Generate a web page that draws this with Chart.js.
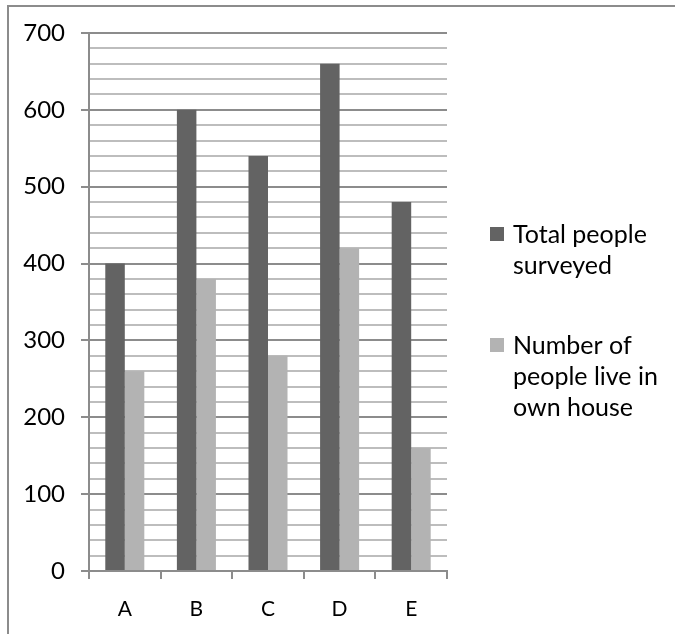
<!DOCTYPE html>
<html>
<head>
<meta charset="utf-8">
<script src="https://cdn.jsdelivr.net/npm/chart.js@4.4.1/dist/chart.umd.min.js"></script>
<style>
  html, body { margin: 0; background: #fff; overflow: hidden; }
  canvas { display: block; }
</style>
</head>
<body>
<canvas id="chart" width="675" height="634"></canvas>
<script>
const categories = ["A", "B", "C", "D", "E"];
const totalSurveyed = [400, 600, 540, 660, 480];
const ownHouse = [260, 380, 280, 420, 160];
const yTickLabels = [0, 100, 200, 300, 400, 500, 600, 700];

// legend text broken the way the picture wraps it
const totalLabel = ["Total people", "surveyed"];
const ownLabel = ["Number of", "people live in", "own house"];

const darkGrey = "#636363";
const lightGrey = "#b3b3b3";

// outer frame: only left and top edges are visible in the crop
const frame = {
  id: "frame",
  beforeDraw(chart) {
    const ctx = chart.ctx;
    ctx.save();
    ctx.strokeStyle = "#8c8c8c";
    ctx.lineWidth = 2;
    ctx.beginPath();
    ctx.moveTo(8, chart.height);
    ctx.lineTo(8, 6);
    ctx.lineTo(chart.width, 6);
    ctx.stroke();
    ctx.restore();
  }
};

const sideLegend = {
  id: "sideLegend",
  afterDraw(chart) {
    const ctx = chart.ctx;
    const tops = [227, 338];
    ctx.save();
    ctx.font = "25px Lato";
    ctx.textBaseline = "alphabetic";
    chart.data.datasets.forEach((ds, i) => {
      ctx.fillStyle = ds.backgroundColor;
      ctx.fillRect(490, tops[i], 14, 14);
      ctx.fillStyle = "#000";
      ds.lines.forEach((line, j) => {
        ctx.fillText(line, 513, tops[i] + 16 + j * 31);
      });
    });
    ctx.restore();
  }
};

new Chart(document.getElementById("chart"), {
  type: "bar",
  data: {
    labels: categories,
    datasets: [
      { label: totalLabel.join(" "), lines: totalLabel, data: totalSurveyed, backgroundColor: darkGrey },
      { label: ownLabel.join(" "), lines: ownLabel, data: ownHouse, backgroundColor: lightGrey }
    ]
  },
  options: {
    responsive: false,
    animation: false,
    layout: { padding: { top: 33, right: 228, left: 0, bottom: 0 } },
    datasets: { bar: { categoryPercentage: 0.545, barPercentage: 1 } },
    plugins: { legend: { display: false }, tooltip: { enabled: false } },
    scales: {
      x: {
        afterFit: (s) => { s.height = 63; },
        grid: {
          offset: true,
          drawOnChartArea: false,
          color: "#8c8c8c",
          lineWidth: 2,
          tickLength: 8
        },
        border: { color: "#8c8c8c", width: 2 },
        ticks: { color: "#000", font: { family: "Lato", size: 21 }, padding: 18 }
      },
      y: {
        min: 0,
        max: 700,
        afterFit: (s) => { s.width = 89; },
        ticks: {
          stepSize: 20,
          autoSkip: false,
          maxTicksLimit: 100,
          color: "#000",
          font: { family: "Lato", size: 24 },
          padding: 16,
          callback: (v) => yTickLabels.includes(v) ? String(v) : ""
        },
        grid: {
          lineWidth: 2,
          tickLength: 8,
          color: (c) => c.tick && c.tick.value % 100 === 0 ? "#8c8c8c" : "#bdbdbd",
          tickColor: (c) => c.tick && c.tick.value % 100 === 0 ? "#8c8c8c" : "rgba(0,0,0,0)"
        },
        border: { color: "#8c8c8c", width: 2 }
      }
    }
  },
  plugins: [frame, sideLegend]
});
</script>
</body>
</html>
